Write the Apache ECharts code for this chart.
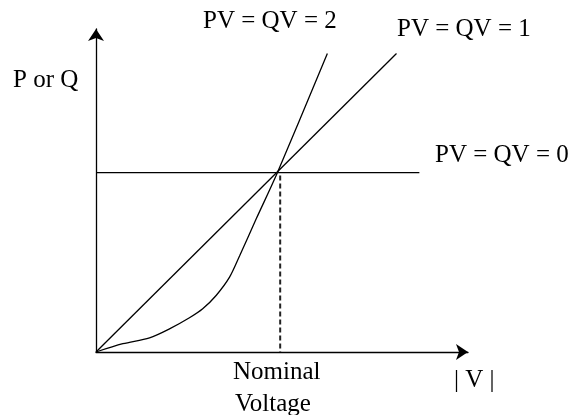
<!DOCTYPE html>
<html lang="en">
<head>
    <meta charset="UTF-8">
    <title>P or Q vs |V|</title>
    <style>
        html, body { margin: 0; padding: 0; background: #fff; }
        #chart { width: 574px; height: 415px; }
    </style>
</head>
<body>
<div id="chart"></div>
<script src="https://cdn.jsdelivr.net/npm/echarts@6/dist/echarts.min.js"></script>
<script>
    // values normalised so nominal voltage = 1 and nominal power = 1
    var constPower = [[0, 1], [1.782, 1]];              // PV = QV = 0
    var constCurrent = [[0, 0], [1.656, 1.663]];        // PV = QV = 1
    var constImpedance = [                               // PV = QV = 2
        [0, 0], [0.148, 0.046], [0.295, 0.079], [0.405, 0.129], [0.515, 0.191],
        [0.588, 0.241], [0.662, 0.315], [0.736, 0.417], [0.791, 0.535],
        [0.883, 0.742], [1, 1], [1.275, 1.663]
    ];
    var nominalMarker = [[1.015, 0.983], [1.015, 0]];

    var labels = {
        yName: "P or Q",
        xName: "| V |",
        nominal: ["Nominal", "Voltage"],
        curves: ["PV = QV = 0", "PV = QV = 1", "PV = QV = 2"]
    };

    var font = '25px "Liberation Serif", "Times New Roman", serif';

    function txt(s, x, y) {
        return {
            type: "text",
            style: { text: s, x: x, y: y, font: font, fill: "#000", align: "left", verticalAlign: "middle" }
        };
    }

    function lineSeries(name, data, extra) {
        var s = {
            name: name,
            type: "line",
            data: data,
            symbol: "none",
            silent: true,
            lineStyle: { color: "#000", width: 1.3 }
        };
        for (var k in extra) s[k] = extra[k];
        return s;
    }

    var axisLine = {
        show: true,
        symbol: ["none", "arrow"],
        symbolSize: [12, 12],
        lineStyle: { color: "#000", width: 1.3 }
    };

    var chart = echarts.init(document.getElementById("chart"));
    chart.setOption({
        animation: false,
        backgroundColor: "#fff",
        grid: { left: 96, right: 106, top: 29, bottom: 63 },
        xAxis: {
            type: "value", min: 0, max: 2.05,
            axisLine: axisLine,
            axisTick: { show: false }, axisLabel: { show: false }, splitLine: { show: false }
        },
        yAxis: {
            type: "value", min: 0, max: 1.8,
            axisLine: axisLine,
            axisTick: { show: false }, axisLabel: { show: false }, splitLine: { show: false }
        },
        series: [
            lineSeries(labels.curves[0], constPower),
            lineSeries(labels.curves[1], constCurrent),
            lineSeries(labels.curves[2], constImpedance, { smooth: 0.3 }),
            lineSeries("nominal", nominalMarker, {
                lineStyle: { color: "#222", width: 2, type: [5, 3] }
            })
        ],
        graphic: [
            txt(labels.yName, 13, 80.5),
            txt(labels.curves[2], 203, 21),
            txt(labels.curves[1], 397, 29),
            txt(labels.curves[0], 435, 155),
            txt(labels.nominal[0], 233, 372.5),
            txt(labels.nominal[1], 235, 404.5),
            txt(labels.xName, 454, 380)
        ]
    });
</script>
</body>
</html>
